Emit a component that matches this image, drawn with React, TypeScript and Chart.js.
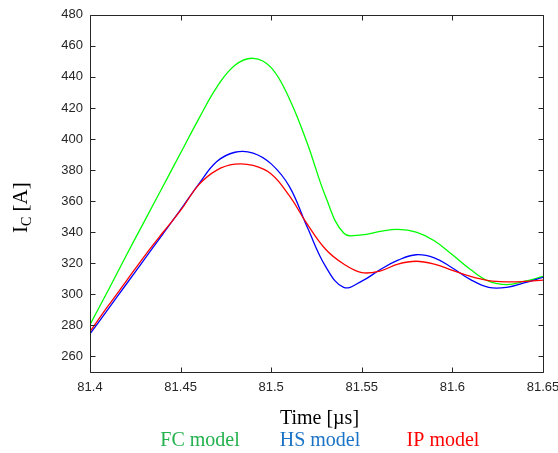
import React, { useEffect, useRef } from "react";
import { Chart, registerables } from "chart.js";

Chart.register(...registerables);

// ---- data ----
const time = [81.4, 81.41, 81.42, 81.43, 81.44, 81.45, 81.46, 81.47, 81.48, 81.49, 81.5, 81.51, 81.52, 81.53, 81.54, 81.55, 81.56, 81.57, 81.58, 81.59, 81.6, 81.61, 81.62, 81.63, 81.64, 81.65];
const fcCurrent = [280.5, 302.5, 325, 347, 369, 391, 413, 433.5, 447.5, 452, 446, 426, 397, 363, 339.5, 338.3, 340.5, 341.8, 340, 334.5, 325.5, 316, 308.5, 306.3, 308.5, 311.5];
const hsCurrent = [274.5, 290.5, 306.5, 322.5, 338.5, 354.5, 371, 385.5, 391.5, 391, 384, 369.5, 343, 318, 304.5, 308.5, 315.8, 322, 325.5, 323.5, 317, 309.5, 304.5, 304.5, 307.5, 311];
const ipCurrent = [276, 292.5, 308.5, 324.5, 339.5, 354, 370.5, 380, 383.8, 383, 377.5, 363.5, 345, 329, 319.5, 314, 315, 319.5, 321.3, 319.5, 315.5, 311.5, 308.8, 308, 308.3, 309.2];

const seriesNames = ["FC model", "HS model", "IP model"];
const lineColors = ["#00ff00", "#0000ff", "#ff0000"];
const legendColors = ["#22b14c", "#1a73c6", "#ff0000"];

const xMin = 81.4;
const xMax = 81.65;
const xStep = 0.05;
const yMin = 250;
const yMax = 480;
const yStep = 20;

const xTitle = "Time [µs]";

const toPoints = (xs: number[], ys: number[]) => xs.map((x, i) => ({ x, y: ys[i] }));

const AXIS_COLOR = "#262626";

const framePlugin = {
  id: "frame",
  afterDraw(chart: any) {
    const { ctx, chartArea, scales } = chart;
    const { left, right, top, bottom } = chartArea;
    const xs = scales.x;
    const ys = scales.y;
    ctx.save();
    ctx.strokeStyle = AXIS_COLOR;
    ctx.lineWidth = 1;
    const L = Math.round(left) + 0.5;
    const R = Math.round(right) + 0.5;
    const T = Math.round(top) + 0.5;
    const B = Math.round(bottom) + 0.5;
    ctx.beginPath();
    ctx.rect(L, T, R - L, B - T);
    ctx.stroke();
    const tl = 5;
    ctx.beginPath();
    xs.ticks.forEach((t: any) => {
      const px = Math.round(xs.getPixelForValue(t.value)) + 0.5;
      ctx.moveTo(px, B);
      ctx.lineTo(px, B - tl);
      ctx.moveTo(px, T);
      ctx.lineTo(px, T + tl);
    });
    ys.ticks.forEach((t: any) => {
      if (Math.round(t.value) % yStep !== 0) return;
      const py = Math.round(ys.getPixelForValue(t.value)) + 0.5;
      ctx.moveTo(L, py);
      ctx.lineTo(L + tl, py);
      ctx.moveTo(R, py);
      ctx.lineTo(R - tl, py);
    });
    ctx.stroke();

    // x title
    const serif = "'Liberation Serif', 'Times New Roman', serif";
    ctx.fillStyle = "#000";
    ctx.font = `20px ${serif}`;
    ctx.textAlign = "center";
    ctx.textBaseline = "alphabetic";
    const cx = (left + right) / 2;
    ctx.fillText(xTitle, cx + 3, 424);

    // legend
    const legendX = [200, 320, 443];
    seriesNames.forEach((n, i) => {
      ctx.fillStyle = legendColors[i];
      ctx.fillText(n, legendX[i], 446);
    });

    // y title: I_C [A]
    ctx.save();
    ctx.translate(27, 233);
    ctx.rotate(-Math.PI / 2);
    ctx.textAlign = "left";
    ctx.fillStyle = "#000";
    ctx.font = `21px ${serif}`;
    ctx.fillText("I", 0, 0);
    let w = ctx.measureText("I").width;
    ctx.font = `14px ${serif}`;
    ctx.fillText("C", w, 4);
    w += ctx.measureText("C").width;
    ctx.font = `21px ${serif}`;
    ctx.fillText(" [A]", w, 0);
    ctx.restore();

    ctx.restore();
  },
};

export default function App() {
  const ref = useRef<HTMLCanvasElement>(null);
  useEffect(() => {
    if (!ref.current) return;
    const tickFont = { family: "'Liberation Sans', Arial, sans-serif", size: 13 };
    const chart = new Chart(ref.current, {
      type: "line",
      data: {
        datasets: [
          { label: seriesNames[0], data: toPoints(time, fcCurrent), borderColor: lineColors[0], order: 2 },
          { label: seriesNames[1], data: toPoints(time, hsCurrent), borderColor: lineColors[1], order: 1 },
          { label: seriesNames[2], data: toPoints(time, ipCurrent), borderColor: lineColors[2], order: 0 },
        ].map((d) => ({
          ...d,
          borderWidth: 1.3,
          pointRadius: 0,
          fill: false,
          tension: 0.4,
        })),
      },
      options: {
        animation: false,
        responsive: false,
        devicePixelRatio: 1,
        layout: { padding: { left: 0, top: 14, right: 57, bottom: 0 } },
        plugins: { legend: { display: false }, tooltip: { enabled: false } },
        scales: {
          x: {
            type: "linear",
            min: xMin,
            max: xMax,
            afterFit: (s: any) => {
              s.height = 81;
            },
            grid: { display: false, drawTicks: false },
            border: { display: false },
            ticks: {
              stepSize: xStep,
              padding: 8,
              color: AXIS_COLOR,
              font: tickFont,
              maxRotation: 0,
              autoSkip: false,
              callback: (v: any) => String(Number(Number(v).toFixed(2))),
            },
          },
          y: {
            type: "linear",
            min: yMin,
            max: yMax,
            afterFit: (s: any) => {
              s.width = 90;
            },
            grid: { display: false, drawTicks: false },
            border: { display: false },
            ticks: {
              stepSize: yStep,
              padding: 7,
              color: AXIS_COLOR,
              font: tickFont,
              autoSkip: false,
              callback: (v: any) => (Math.round(v) % yStep === 0 ? String(Math.round(v)) : ""),
            },
          },
        },
      },
      plugins: [framePlugin],
    });
    return () => chart.destroy();
  }, []);
  return (
    <div style={{ position: "absolute", left: 0, top: 0, width: 558, height: 453, overflow: "hidden", background: "#fff" }}>
      <canvas ref={ref} width={600} height={453} style={{ display: "block", width: 600, height: 453 }} />
    </div>
  );
}
